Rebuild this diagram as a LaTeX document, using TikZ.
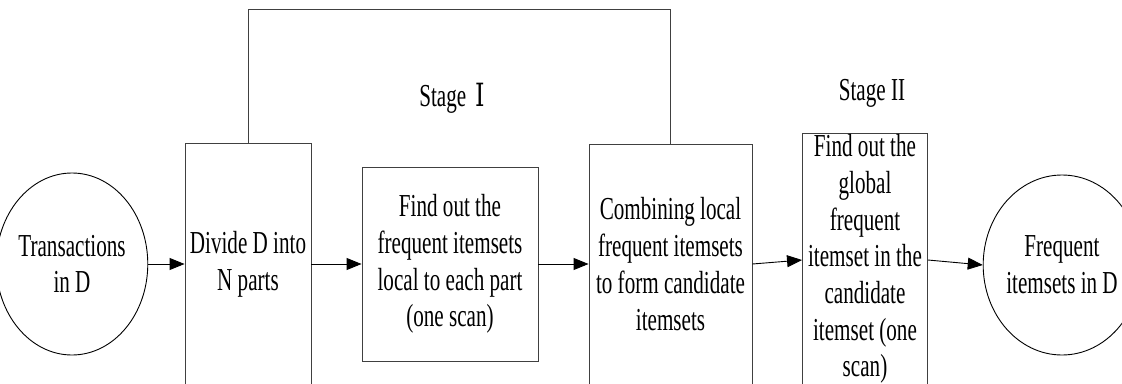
\documentclass[tikz,border=0pt]{standalone}
\usepackage{fontspec}
\setmainfont{Liberation Serif}[FakeStretch=0.66]
\newfontfamily\romanfont{DejaVu Serif}[FakeStretch=0.75]
\usetikzlibrary{arrows.meta,shapes.geometric}
\tikzset{
  every node/.style={font=\fontsize{32}{36.7}\selectfont, align=center, inner sep=0pt},
  boxnode/.style={draw=black!75, line width=0.9pt, rectangle},
  ellnode/.style={draw=black, line width=0.9pt, ellipse},
  flow/.style={draw=black, line width=0.9pt, -{Triangle[length=15pt,width=12pt]}},
  link/.style={draw=black!75, line width=0.9pt},
  stagelabel/.style={}
}
\begin{document}
\begin{tikzpicture}[x=1pt,y=-1pt]
\useasboundingbox (0,0) rectangle (1122,383);
\node[ellnode, minimum width=126pt, minimum height=182pt] (trans) at (72,264) {Transactions\\in D};
\node[boxnode, minimum width=126pt, minimum height=242pt] (divide) at (248,264) {Divide D into\\N parts};
\node[boxnode, minimum width=176pt, minimum height=194pt] (find) at (450,264) {Find out the\\frequent itemsets\\local to each part\\(one scan)};
\node[boxnode, minimum width=163pt, minimum height=240pt] (comb) at (670.5,264) {Combining local\\frequent itemsets\\to form candidate\\itemsets};
\node[boxnode, minimum width=125pt, minimum height=252pt] (global) at (865,259) {Find out the\\global\\frequent\\itemset in the\\candidate\\itemset (one\\scan)};
\node[ellnode, minimum width=130pt, minimum height=180pt] (freq) at (1062,265) {Frequent\\itemsets in D};
\node[stagelabel] (stageI) at (452,98) {Stage\hspace{9pt}{\romanfont Ⅰ}};
\node[stagelabel] (stageII) at (872,93) {Stage II};
\coordinate (topY) at (0,9);
\draw[link] (divide.north) -- (divide.north |- topY) -| (comb.north);
\draw[flow] (trans.east) -- (divide.west);
\draw[flow] (divide.east) -- (find.west);
\draw[flow] (find.east) -- (comb.west);
\draw[flow] (comb.east) -- ([yshift=-1pt]global.west);
\draw[flow] ([yshift=-1pt]global.east) -- (freq.west);
\end{tikzpicture}
\end{document}
